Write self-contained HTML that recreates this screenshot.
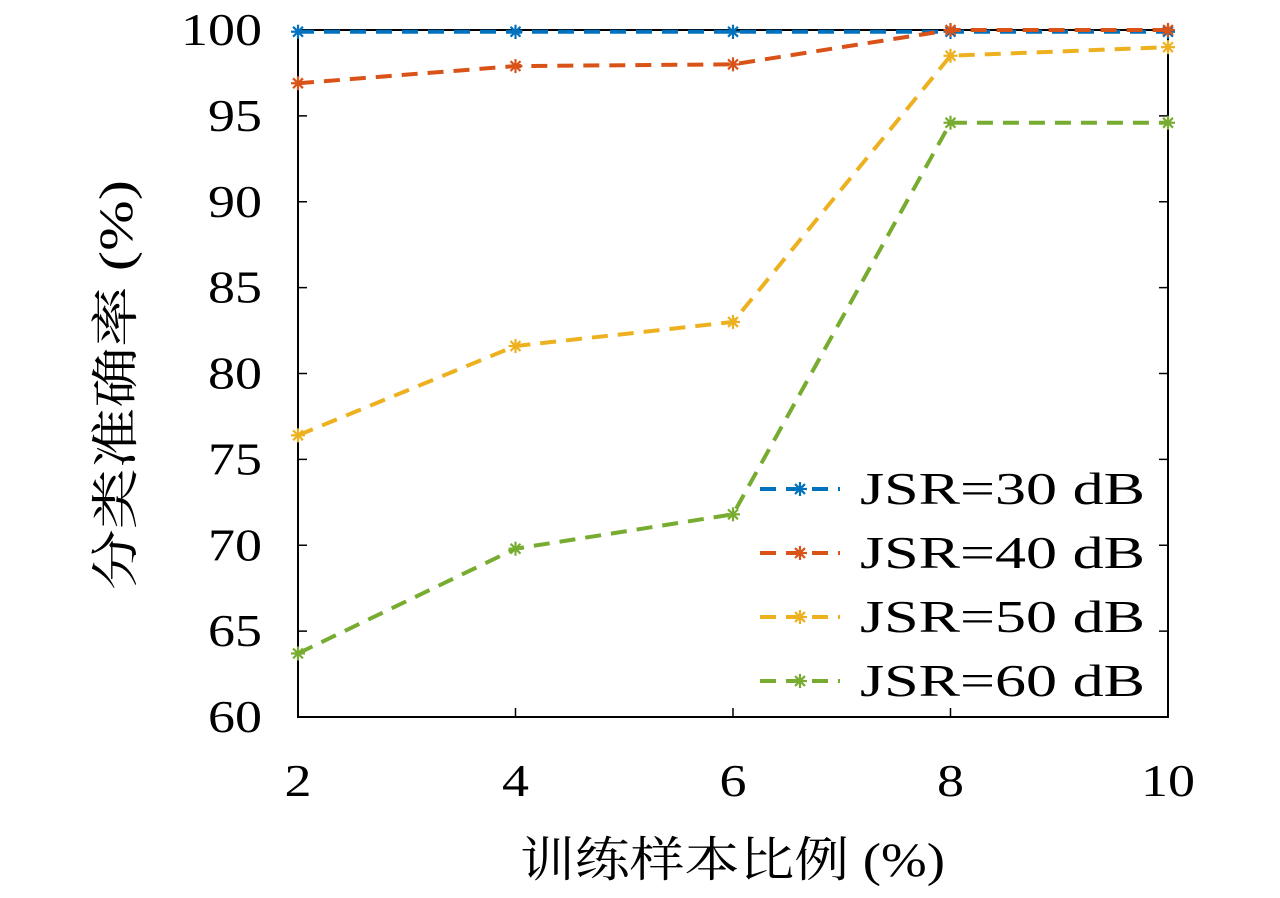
<!DOCTYPE html>
<html><head><meta charset="utf-8"><style>
body{margin:0;background:#fff;}
svg text{font-family:"Liberation Serif","Noto Serif CJK SC",serif;fill:#000;}
</style></head><body>
<svg id="chart" width="1280" height="893" viewBox="0 0 1280 893" xmlns="http://www.w3.org/2000/svg">
<g id="plot"></g>
</svg>
<script>
const xValues=[2,4,6,8,10];
const seriesNames=["JSR=30 dB","JSR=40 dB","JSR=50 dB","JSR=60 dB"];
const s30=[99.9,99.9,99.9,99.9,99.9];
const s40=[96.9,97.9,98.0,100,100];
const s50=[76.4,81.6,83.0,98.5,99.0];
const s60=[63.7,69.8,71.8,94.6,94.6];
const colors=["#0072BD","#D95319","#EDB120","#77AC30"];
const yTicks=[60,65,70,75,80,85,90,95,100];
const xTicks=[2,4,6,8,10];
const L=298,R=1168,T=30,B=717;
const xs=v=>L+(v-2)/(10-2)*(R-L);
const ys=v=>B-(v-60)/(100-60)*(B-T);
const NS="http://www.w3.org/2000/svg";
const g=document.getElementById('plot');
function mk(t,a,p){const e=document.createElementNS(NS,t);for(const k in a)e.setAttribute(k,a[k]);(p||g).appendChild(e);return e;}
const frame=mk('rect',{x:L,y:T,width:R-L,height:B-T,fill:'none',stroke:'#000','stroke-width':2});


yTicks.forEach(v=>{const y=ys(v);
mk('line',{x1:L,x2:L+9,y1:y,y2:y,stroke:'#000','stroke-width':1.5});
mk('line',{x1:R,x2:R-9,y1:y,y2:y,stroke:'#000','stroke-width':1.5});
const s=String(v);
const t=mk('text',{x:L-36,y:y+15,'text-anchor':'end','font-size':46,textLength:s.length*27,lengthAdjust:'spacingAndGlyphs'});t.textContent=s;

});
xTicks.forEach(v=>{const x=xs(v);
mk('line',{x1:x,x2:x,y1:B,y2:B-9,stroke:'#000','stroke-width':1.5});
mk('line',{x1:x,x2:x,y1:T,y2:T+9,stroke:'#000','stroke-width':1.5});
const s=String(v);
const t=mk('text',{x:x,y:B+79,'text-anchor':'middle','font-size':46,textLength:s.length*27,lengthAdjust:'spacingAndGlyphs'});t.textContent=s;

});
function marker(x,y,c,p){for(let i=0;i<4;i++){const a=i*Math.PI/4;const dx=7*Math.cos(a),dy=7*Math.sin(a);
mk('line',{x1:x-dx,y1:y-dy,x2:x+dx,y2:y+dy,stroke:c,'stroke-width':2.2},p);}}
[s30,s40,s50,s60].forEach((s,i)=>{
const sg=mk('g',{});


mk('polyline',{points:s.map((v,j)=>xs(xValues[j])+','+ys(v)).join(' '),fill:'none',stroke:colors[i],'stroke-width':4,'stroke-dasharray':'16 10'},sg);
s.forEach((v,j)=>marker(xs(xValues[j]),ys(v),colors[i],sg));
const ly=489+i*64;
const le=mk('g',{});


mk('line',{x1:760,x2:840,y1:ly,y2:ly,stroke:colors[i],'stroke-width':4,'stroke-dasharray':'16 10'},le);
marker(800,ly,colors[i],le);
const t=mk('text',{x:860,y:ly+15,'font-size':46,textLength:285,lengthAdjust:'spacingAndGlyphs'},le);t.textContent=seriesNames[i];
});
const xt=mk('text',{x:520,y:876,'font-size':48,textLength:425,lengthAdjust:'spacingAndGlyphs'});xt.textContent='训练样本比例 (%)';


const yt=mk('text',{x:0,y:0,'font-size':48,textLength:410,lengthAdjust:'spacingAndGlyphs',transform:'translate(132,590) rotate(-90)'});yt.textContent='分类准确率 (%)';


</script>
</body></html>
